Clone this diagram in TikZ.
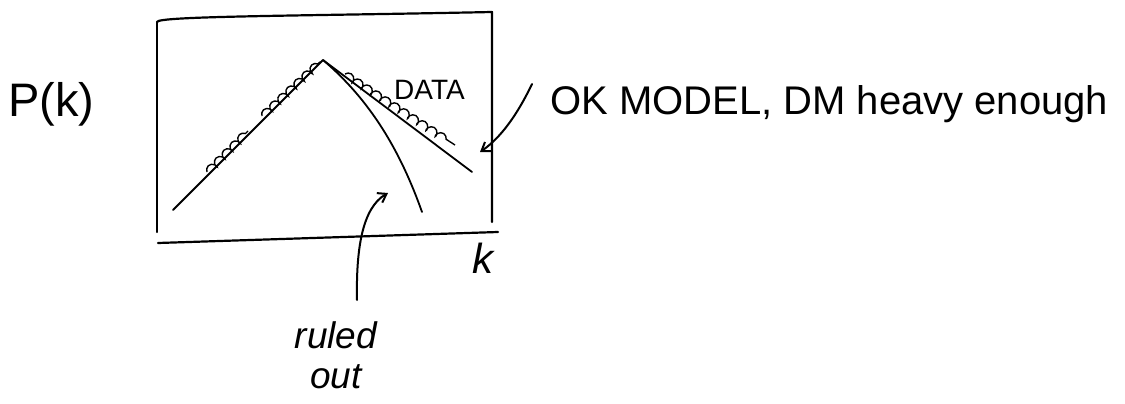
\documentclass[tikz,border=0pt]{standalone}
\usepackage{fontspec}
\setmainfont{Liberation Sans}
\usetikzlibrary{arrows.meta,decorations.pathmorphing}
\tikzset{
  pen/.style={line width=2.2pt, line cap=round, line join=round, black},
  datapts/.style={line width=1.4pt, decorate, decoration={coil, amplitude=3.5pt, segment length=11pt, aspect=0.7}},
  hand/.style={font=\fontsize{40}{44}\selectfont, inner sep=0pt},
  ptr/.style={pen, line width=2pt, -{Straight Barb[length=8pt,width=11pt]}}
}
\begin{document}
\begin{tikzpicture}[x=1pt,y=-1pt]
\useasboundingbox (0,0) rectangle (1125,404);
% frame
\coordinate (tl) at (157,22);
\coordinate (tr) at (492,12);
\coordinate (br) at (492,222);
\coordinate (bl) at (157,232);
\draw[pen] (tl) .. controls (157,16) and (300,16) .. (tr) -- (br);
\draw[pen] (tl) -- (bl);
% k axis
\coordinate (ax0) at (158,243);
\coordinate (ax1) at (498,232);
\draw[pen] (ax0) -- (ax1);
% curves
\coordinate (peak) at (323,60);
\coordinate (lend) at (173,210);
\coordinate (dend) at (472,172);
\coordinate (rend) at (422,212);
\draw[pen, line width=1.8pt] (lend) -- (peak) -- (dend);
\draw[pen, line width=1.8pt] (peak) .. controls (370,100) and (400,150) .. (rend);
% data points
\draw[datapts] (207,172) -- (248,131);
\draw[datapts] (262,116) -- (320,62);
\draw[datapts] (345,74) -- (455,145);
% labels
\node[hand, font=\fontsize{47}{50}\selectfont, anchor=west] (pk) at (8,104) {P(k)};
\node[hand, font=\fontsize{28}{30}\selectfont, anchor=west] (data) at (394,90) {DATA};
\node[hand, font=\itshape\fontsize{42}{44}\selectfont] (k) at (483,258) {k};
\node[hand, anchor=west] (ok) at (550,104) {OK MODEL, DM heavy enough};
\node[hand, font=\itshape\fontsize{37}{40}\selectfont, align=center] (ro) at (336,355) {ruled\\out};
% arrows
\draw[ptr] (ok.west) ++(-18,-20) .. controls (522,105) and (505,135) .. (480,152);
\draw[ptr] (357,300) .. controls (356,250) and (362,208) .. (388,193);
\end{tikzpicture}
\end{document}
